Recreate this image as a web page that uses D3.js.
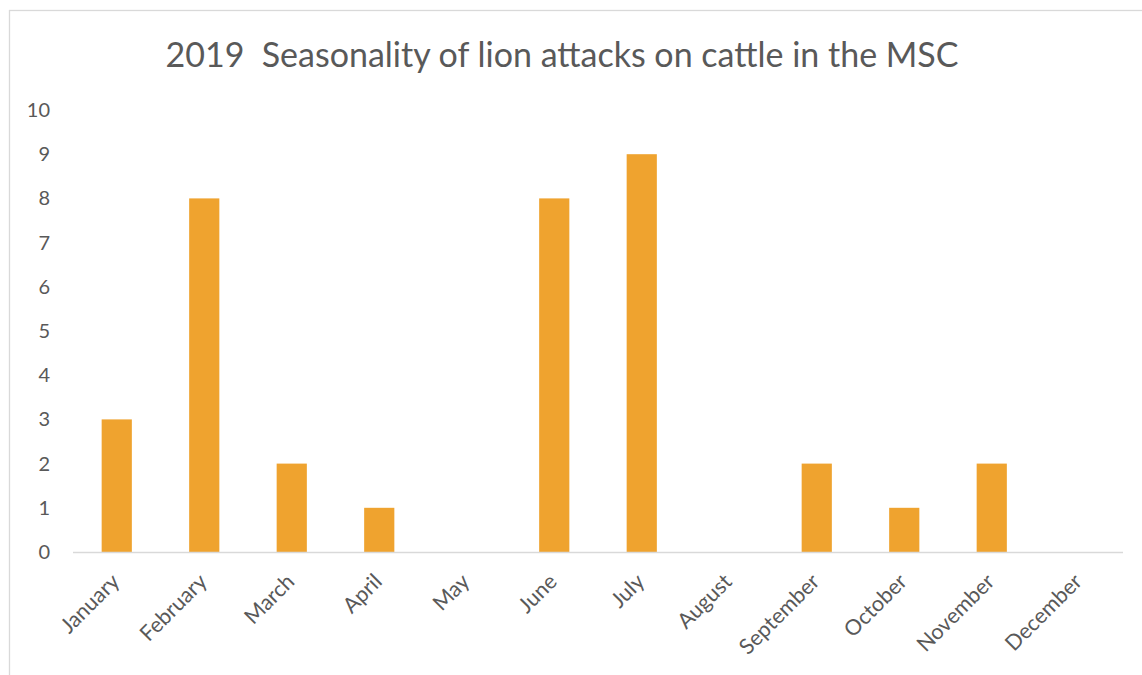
<!DOCTYPE html>
<html>
<head>
<meta charset="utf-8">
<script src="https://cdn.jsdelivr.net/npm/d3@7/dist/d3.min.js"></script>
<style>
  html, body { margin: 0; padding: 0; background: #ffffff; }
  svg { display: block; }
  text { font-family: Lato, "Open Sans", "Liberation Sans", sans-serif; fill: #595959; }
</style>
</head>
<body>
<svg id="chart" width="1142" height="675"></svg>
<script>
// Monthly lion attacks on cattle, 2019
const months = ["January", "February", "March", "April", "May", "June",
                "July", "August", "September", "October", "November", "December"];
const attacks = [3, 8, 2, 1, 0, 8, 9, 0, 2, 1, 2, 0];
const yTicks = [0, 1, 2, 3, 4, 5, 6, 7, 8, 9, 10];
const title = "2019\u00a0 Seasonality of lion attacks on cattle in the MSC";

const W = 1142, H = 675;
const plot = { left: 73, right: 1123, top: 110, bottom: 552 };
const labelFont = "Lato, 'Open Sans', sans-serif";

const svg = d3.select("#chart");

// outer chart frame
svg.append("rect")
  .attr("x", 9.5).attr("y", 10.5)
  .attr("width", W + 20).attr("height", H + 20)
  .attr("fill", "#ffffff")
  .attr("stroke", "#d9d9d9").attr("stroke-width", 1.3);

const x = d3.scaleBand()
  .domain(months)
  .range([plot.left, plot.right])
  .paddingInner(0.655)
  .paddingOuter(0.3275);

const y = d3.scaleLinear()
  .domain([0, 10])
  .range([plot.bottom, plot.top]);

// title
svg.append("text")
  .attr("x", 562).attr("y", 67)
  .attr("text-anchor", "middle")
  .attr("font-size", 34)
  .text(title);

// bars
svg.append("g").selectAll("rect")
  .data(months.map((m, i) => ({ m, v: attacks[i] })).filter(d => d.v > 0))
  .join("rect")
  .attr("x", d => x(d.m))
  .attr("y", d => y(d.v))
  .attr("width", x.bandwidth())
  .attr("height", d => y(0) - y(d.v))
  .attr("fill", "#efa32f");

// y axis labels (no axis line)
const yAxis = svg.append("g")
  .attr("transform", `translate(${plot.left - 23},0)`)
  .call(d3.axisLeft(y).tickValues(yTicks).tickSize(0).tickPadding(0));
yAxis.select(".domain").remove();
yAxis.selectAll("text")
  .attr("font-size", 20)
  .attr("fill", "#595959")
  .style("font-family", labelFont);

// x baseline
svg.append("line")
  .attr("x1", plot.left).attr("x2", plot.right)
  .attr("y1", y(0) + 0.5).attr("y2", y(0) + 0.5)
  .attr("stroke", "#d9d9d9").attr("stroke-width", 1.6);

// x axis labels, rotated
const xAxis = svg.append("g")
  .attr("transform", `translate(0,${plot.bottom})`)
  .call(d3.axisBottom(x).tickSize(0).tickPadding(0));
xAxis.select(".domain").remove();
xAxis.selectAll("text")
  .attr("font-size", 21.5)
  .attr("fill", "#595959")
  .style("font-family", labelFont)
  .attr("text-anchor", "end")
  .attr("dy", null)
  .attr("y", 0)
  .attr("transform", "translate(4,31) rotate(-45)");
</script>
</body>
</html>
